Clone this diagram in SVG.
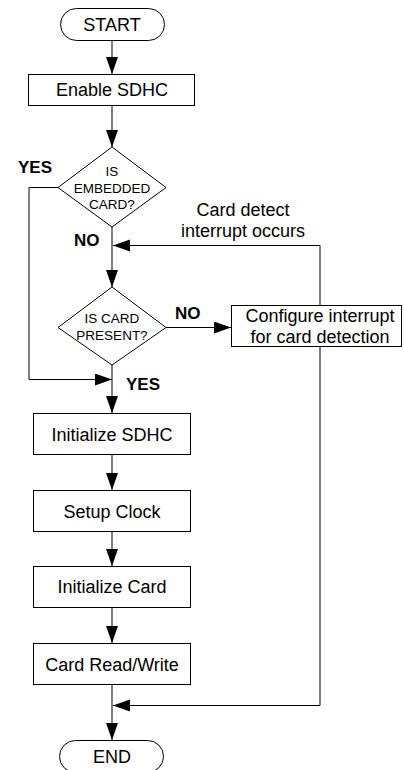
<svg xmlns="http://www.w3.org/2000/svg" width="404" height="770" viewBox="0 0 404 770">
<style>
.box{fill:#fff;stroke:#000;stroke-width:1}
.t{font-family:"Liberation Sans",Arial,sans-serif;font-size:18px;fill:#000;text-anchor:middle}
.d{font-family:"Liberation Sans",Arial,sans-serif;font-size:13.5px;fill:#000;text-anchor:middle}
.b{font-family:"Liberation Sans",Arial,sans-serif;font-size:17px;font-weight:bold;fill:#000}
.c{fill:none;stroke:#000;stroke-width:1}
</style>
<defs>
<marker id="ah" markerUnits="userSpaceOnUse" markerWidth="18" markerHeight="13" refX="17" refY="6" orient="auto">
<path d="M0,0 L17,6 L0,12 z" fill="#000"/>
</marker>
</defs>
<rect width="404" height="770" fill="#fff"/>
<g id="connectors">
<path class="c" d="M112,41 V74" marker-end="url(#ah)"/>
<path class="c" d="M112,105 V147" marker-end="url(#ah)"/>
<path class="c" d="M112,227 V287" marker-end="url(#ah)"/>
<path class="c" d="M58,187.5 H29 V379.5 H112" marker-end="url(#ah)"/>
<path class="c" d="M166,327.5 H231" marker-end="url(#ah)"/>
<path class="c" d="M320,305 V245.5 H113" marker-end="url(#ah)"/>
<path class="c" d="M320,347 V705.5 H113" marker-end="url(#ah)"/>
<path class="c" d="M112,365 V413" marker-end="url(#ah)"/>
<path class="c" d="M112,455 V490" marker-end="url(#ah)"/>
<path class="c" d="M112,532 V566" marker-end="url(#ah)"/>
<path class="c" d="M112,607 V643" marker-end="url(#ah)"/>
<path class="c" d="M112,685 V740" marker-end="url(#ah)"/>
<text class="b" x="18" y="173">YES</text>
<text class="b" x="74" y="246">NO</text>
<text class="b" x="175" y="319">NO</text>
<text class="b" x="126" y="390">YES</text>
<text class="t" x="243" y="216">Card detect</text>
<text class="t" x="243" y="237">interrupt occurs</text>
</g>
<g id="start">
<rect class="box" x="60.5" y="8.5" width="104" height="32" rx="16" ry="16"/>
<text class="t" x="112" y="31">START</text>
</g>
<g id="enable">
<rect class="box" x="28.5" y="74.5" width="166" height="31"/>
<text class="t" x="112" y="96">Enable SDHC</text>
</g>
<g id="embedded">
<polygon class="box" points="112,147 166,187.5 112,227 58,187.5"/>
<text class="d" x="112" y="176">IS</text>
<text class="d" x="112" y="193">EMBEDDED</text>
<text class="d" x="112" y="209">CARD?</text>
</g>
<g id="present">
<polygon class="box" points="112,287 166,327.5 112,365 58,327.5"/>
<text class="d" x="112" y="323">IS CARD</text>
<text class="d" x="112" y="340">PRESENT?</text>
</g>
<g id="configure">
<rect class="box" x="231.5" y="305.5" width="170" height="41"/>
<text class="t" x="320" y="322">Configure interrupt</text>
<text class="t" x="320" y="343">for card detection</text>
</g>
<g id="init-sdhc">
<rect class="box" x="33.5" y="413.5" width="157" height="41"/>
<text class="t" x="112" y="441">Initialize SDHC</text>
</g>
<g id="setup-clock">
<rect class="box" x="33.5" y="490.5" width="157" height="41"/>
<text class="t" x="112" y="518">Setup Clock</text>
</g>
<g id="init-card">
<rect class="box" x="33.5" y="566.5" width="157" height="41"/>
<text class="t" x="112" y="593">Initialize Card</text>
</g>
<g id="rw">
<rect class="box" x="33.5" y="643.5" width="157" height="41"/>
<text class="t" x="112" y="671">Card Read/Write</text>
</g>
<g id="end">
<rect class="box" x="59.5" y="740.5" width="104" height="32" rx="16" ry="16"/>
<text class="t" x="112" y="763">END</text>
</g>
</svg>
